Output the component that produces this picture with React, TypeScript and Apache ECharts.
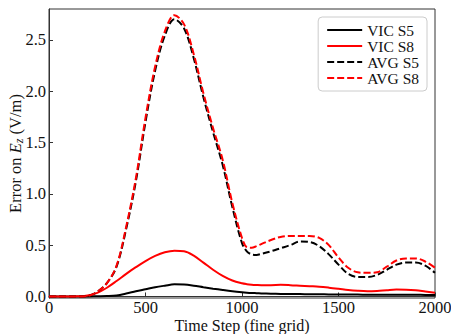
import React, { useEffect, useRef } from "react";
import * as echarts from "echarts";

const timeSteps = [0, 50, 100, 150, 200, 250, 300, 350, 400, 450, 500, 550, 600, 650, 700, 750, 800, 850, 900, 950, 1000, 1025, 1050, 1075, 1100, 1150, 1200, 1250, 1300, 1350, 1400, 1450, 1500, 1550, 1600, 1650, 1700, 1750, 1800, 1850, 1900, 1950, 2000];

const vicS5 = [0, 0, 0, 0, 0, 0.002, 0.004, 0.01, 0.028, 0.05, 0.07, 0.09, 0.105, 0.118, 0.116, 0.105, 0.09, 0.076, 0.063, 0.051, 0.041, 0.037, 0.034, 0.032, 0.03, 0.027, 0.025, 0.024, 0.023, 0.022, 0.021, 0.02, 0.019, 0.018, 0.018, 0.017, 0.017, 0.017, 0.017, 0.016, 0.016, 0.015, 0.015];

const vicS8 = [0, 0, 0, 0.002, 0.01, 0.035, 0.085, 0.15, 0.22, 0.285, 0.345, 0.395, 0.43, 0.445, 0.44, 0.397, 0.33, 0.26, 0.2, 0.155, 0.128, 0.12, 0.115, 0.112, 0.11, 0.11, 0.113, 0.11, 0.105, 0.1, 0.095, 0.086, 0.075, 0.063, 0.055, 0.051, 0.054, 0.061, 0.067, 0.066, 0.06, 0.048, 0.036];

const avgS5 = [0, 0, 0, 0, 0.005, 0.045, 0.13, 0.29, 0.66, 1.12, 1.7, 2.2, 2.54, 2.7, 2.61, 2.32, 1.94, 1.6, 1.28, 0.87, 0.52, 0.44, 0.41, 0.405, 0.415, 0.44, 0.47, 0.5, 0.535, 0.53, 0.49, 0.41, 0.31, 0.22, 0.19, 0.19, 0.21, 0.26, 0.31, 0.33, 0.33, 0.3, 0.23];

const avgS8 = [0, 0, 0, 0, 0.005, 0.045, 0.13, 0.3, 0.68, 1.15, 1.74, 2.24, 2.58, 2.74, 2.65, 2.36, 1.98, 1.64, 1.33, 0.91, 0.57, 0.48, 0.475, 0.49, 0.51, 0.55, 0.58, 0.59, 0.59, 0.59, 0.57, 0.5, 0.38, 0.28, 0.235, 0.23, 0.235, 0.29, 0.35, 0.37, 0.37, 0.34, 0.28];

const xTicks = [0, 500, 1000, 1500, 2000];
const yTicks = [0, 0.5, 1.0, 1.5, 2.0, 2.5];

const FONT = "Liberation Serif, serif";
const FS = 16.5;

export default function App() {
  const ref = useRef<HTMLDivElement>(null);

  useEffect(() => {
    const chart = echarts.init(ref.current!, null, { renderer: "svg" });
    const pair = (arr: number[]) => timeSteps.map((t, i) => [t, arr[i]]);
    const mk = (name: string, arr: number[], color: string, dashed: boolean) => ({
      name,
      type: "line",
      data: pair(arr),
      symbol: "none",
      smooth: 0.35,
      lineStyle: { color, width: 2, type: dashed ? [7, 3] : "solid" },
      itemStyle: { color },
    });
    chart.setOption({
      animation: false,
      textStyle: { fontFamily: FONT },
      grid: {
        left: 49,
        right: 16,
        top: 9,
        bottom: 36,
        show: true,
        borderColor: "#333",
        borderWidth: 1,
        containLabel: false,
        outerBoundsMode: "none",
      },
      legend: {
        orient: "vertical",
        right: 24,
        top: 17,
        padding: [5, 8, 5, 8],
        itemWidth: 35,
        itemHeight: 14,
        itemGap: 0,
        borderColor: "#ccc",
        borderWidth: 1,
        borderRadius: 4,
        itemStyle: { opacity: 0 },
        textStyle: { fontFamily: FONT, fontSize: 15.5, color: "#111", lineHeight: 16 },
        data: ["VIC S5", "VIC S8", "AVG S5", "AVG S8"],
      },
      xAxis: {
        type: "value",
        min: 0,
        max: 2000,
        interval: 500,
        name: "Time Step (fine grid)",
        nameLocation: "middle",
        nameGap: 19,
        nameMoveOverlap: false,
        nameTextStyle: { fontFamily: FONT, fontSize: 16, color: "#111" },
        axisLine: { show: true, lineStyle: { color: "#333", width: 1 } },
        axisTick: { show: true, inside: true, length: 4, lineStyle: { color: "#333" }, customValues: xTicks },
        axisLabel: {
          fontFamily: FONT,
          fontSize: FS,
          color: "#111",
          margin: 1,
          customValues: xTicks,
          formatter: (v: number) => String(v),
        },
        splitLine: { show: false },
      },
      yAxis: {
        type: "value",
        min: -0.015,
        max: 2.8,
        name: "Error on {i|E}{s|z} (V/m)",
        nameLocation: "middle",
        nameGap: 24,
        nameMoveOverlap: false,
        nameTextStyle: {
          fontFamily: FONT,
          fontSize: FS,
          color: "#111",
          rich: {
            i: { fontFamily: FONT, fontSize: FS, fontStyle: "italic", color: "#111" },
            s: { fontFamily: FONT, fontSize: 12, fontStyle: "italic", color: "#111", verticalAlign: "bottom", padding: [8, 0, 0, 0] },
          },
        },
        axisLine: { show: true, lineStyle: { color: "#333", width: 1 } },
        axisTick: { show: true, inside: true, length: 4, lineStyle: { color: "#333" }, customValues: yTicks },
        axisLabel: {
          fontFamily: FONT,
          fontSize: FS,
          color: "#111",
          margin: 3,
          customValues: yTicks,
          formatter: (v: number) => v.toFixed(1),
        },
        splitLine: { show: false },
      },
      series: [
        mk("VIC S5", vicS5, "#000000", false),
        mk("VIC S8", vicS8, "#ff0000", false),
        mk("AVG S5", avgS5, "#000000", true),
        mk("AVG S8", avgS8, "#ff0000", true),
      ],
    });
    return () => chart.dispose();
  }, []);

  return (
    <div
      ref={ref}
      style={{ position: "fixed", left: 0, top: 0, width: 451, height: 334, background: "#fff" }}
    />
  );
}
